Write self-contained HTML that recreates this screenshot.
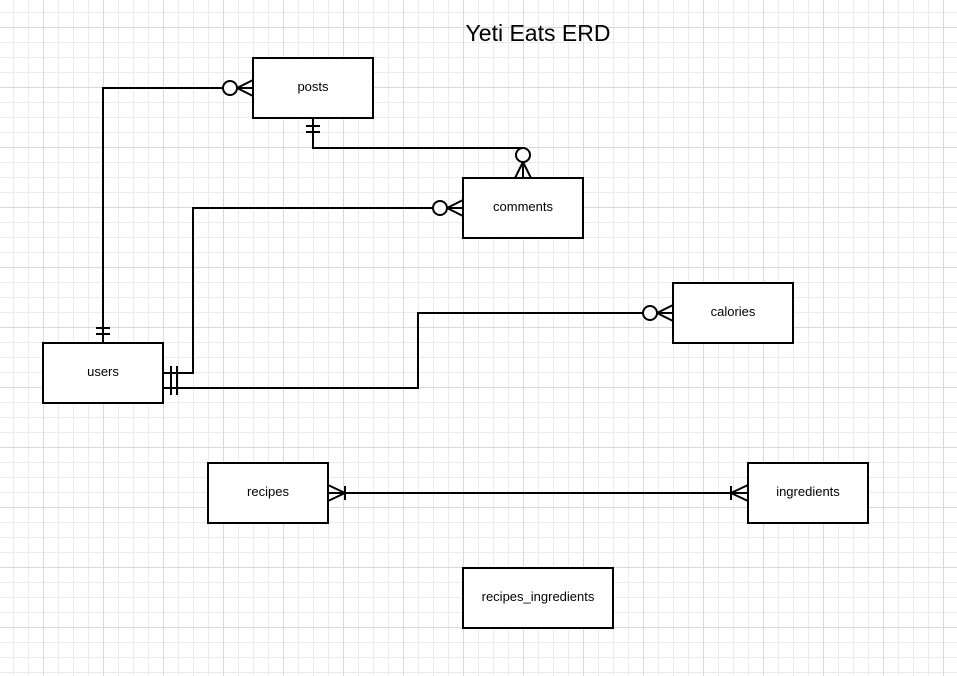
<!DOCTYPE html>
<html><head><meta charset="utf-8"><style>
html,body{margin:0;padding:0;background:#fff;}
svg{display:block;font-family:"Liberation Sans",sans-serif;}
</style></head><body>
<svg width="957" height="676" viewBox="0 0 957 676" xmlns="http://www.w3.org/2000/svg">
<defs>
<pattern id="minor" x="13" y="12" width="15" height="15" patternUnits="userSpaceOnUse">
<path d="M0.5 0V15M0 0.5H15" stroke="#ebebeb" stroke-width="1" fill="none"/>
</pattern>
<pattern id="major" x="43" y="27" width="60" height="60" patternUnits="userSpaceOnUse">
<path d="M0.5 0V60M0 0.5H60" stroke="#d9d9d9" stroke-width="1" fill="none"/>
</pattern>
</defs>
<rect width="957" height="676" fill="url(#minor)"/>
<rect width="957" height="676" fill="url(#major)"/>

<text x="538" y="41" font-size="23" text-anchor="middle" fill="#000">Yeti Eats ERD</text>

<g fill="none" stroke="#000" stroke-width="2">
<path d="M103 343V88H223"/>
<circle cx="230" cy="88" r="7" fill="#fff"/>
<path d="M237 88L253 80M237 88L253 96M237 88H253"/>
<path d="M96 328H110M96 334H110"/>
<path d="M313 118V148H523V148"/>
<path d="M306 126H320M306 132H320"/>
<circle cx="523" cy="155" r="7" fill="#fff"/>
<path d="M523 162L515 178M523 162L531 178M523 162V178"/>
<path d="M163 373H193V208H433"/>
<circle cx="440" cy="208" r="7" fill="#fff"/>
<path d="M447 208L463 200M447 208L463 216M447 208H463"/>
<path d="M163 388H418V313H643"/>
<circle cx="650" cy="313" r="7" fill="#fff"/>
<path d="M657 313L673 305M657 313L673 321M657 313H673"/>
<path d="M171 366V395M177 366V395"/>
<path d="M328 493H748"/>
<path d="M328 485L345 493L328 501M345 486V500"/>
<path d="M748 485L731 493L748 501M731 486V500"/>
</g>

<g fill="#fff" stroke="#000" stroke-width="2">
<rect x="253" y="58" width="120" height="60"/>
<rect x="463" y="178" width="120" height="60"/>
<rect x="673" y="283" width="120" height="60"/>
<rect x="43" y="343" width="120" height="60"/>
<rect x="208" y="463" width="120" height="60"/>
<rect x="748" y="463" width="120" height="60"/>
<rect x="463" y="568" width="150" height="60"/>
</g>
<g font-size="13" text-anchor="middle" fill="#000">
<text x="313" y="91">posts</text>
<text x="523" y="211">comments</text>
<text x="733" y="316">calories</text>
<text x="103" y="376">users</text>
<text x="268" y="496">recipes</text>
<text x="808" y="496">ingredients</text>
<text x="538" y="601">recipes_ingredients</text>
</g>
</svg>
</body></html>
